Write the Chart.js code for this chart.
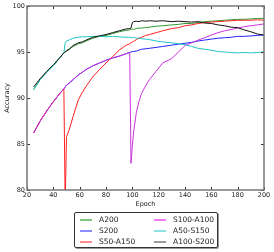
<!DOCTYPE html>
<html><head><meta charset="utf-8">
<script src="https://cdn.jsdelivr.net/npm/chart.js@4"></script>
<style>
html,body{margin:0;padding:0;background:#fff;}
#wrap{position:relative;width:274px;height:252px;}
#legend{position:absolute;left:74px;top:212px;width:142px;height:34px;border:1px solid #333;border-radius:2px;box-shadow:1px 1px 0 #999;background:#fff;font-family:'DejaVu Sans';font-size:7.5px;color:#222;}
.item{position:absolute;height:10px;line-height:10px;white-space:nowrap;}
.sw{position:absolute;left:0;top:4px;width:12px;height:2px;}
.lbl{position:absolute;left:19px;top:0;}
</style></head>
<body><div id="wrap"><canvas id="c" width="274" height="252"></canvas><div id="legend"></div></div>
<script>
const epochs = [25,30,35,40,45,48,49,50,52,55,59,62,65,70,75,80,85,90,95,98,99,100,101,103,105,107,110,113,118,123,130,135,140,145,150,155,160,165,170,175,180,185,190,195,200];
const A200 = [90.9,92.0,92.8,93.5,94.4,94.9,95.0,95.2,95.3,95.6,95.9,96.0,96.2,96.5,96.7,96.8,97.0,97.2,97.35,97.4,97.45,97.5,97.45,97.55,97.6,97.6,97.65,97.7,97.8,97.85,97.95,98.0,98.1,98.1,98.2,98.3,98.35,98.4,98.45,98.5,98.55,98.55,98.6,98.65,98.65];
const S200 = [86.2,87.5,88.6,89.6,90.5,91.0,91.2,91.4,91.6,92.0,92.5,92.8,93.1,93.5,93.8,94.1,94.35,94.55,94.8,94.95,95.0,95.05,95.05,95.1,95.2,95.3,95.35,95.4,95.5,95.6,95.75,95.85,95.95,96.05,96.2,96.3,96.4,96.5,96.55,96.6,96.7,96.7,96.75,96.8,96.85];
const S50_A150 = [86.2,87.5,88.6,89.6,90.5,91.0,78.5,85.8,86.5,88.0,89.8,90.6,91.3,92.3,93.1,93.8,94.5,95.2,95.7,95.9,96.0,96.1,96.15,96.35,96.5,96.6,96.8,96.9,97.1,97.3,97.55,97.65,97.85,97.95,98.1,98.2,98.25,98.3,98.35,98.4,98.45,98.45,98.45,98.5,98.45];
const S100_A100 = [86.2,87.5,88.6,89.6,90.5,91.0,91.2,91.4,91.6,92.0,92.5,92.8,93.1,93.5,93.8,94.1,94.35,94.55,94.8,94.95,82.9,84.8,86.3,88.4,89.6,90.5,91.3,92.0,92.9,93.8,94.3,95.0,95.7,96.0,96.3,96.55,96.85,97.1,97.3,97.45,97.6,97.75,97.85,97.95,98.05];
const A50_S150 = [90.9,92.0,92.8,93.5,94.4,94.9,96.0,96.2,96.3,96.5,96.6,96.65,96.65,96.7,96.7,96.65,96.7,96.65,96.6,96.6,96.55,96.55,96.6,96.5,96.5,96.45,96.4,96.35,96.2,96.1,96.0,95.9,95.8,95.6,95.4,95.3,95.2,95.05,95.0,94.95,94.9,94.95,94.9,94.95,95.0];
const A100_S200 = [91.2,92.1,92.9,93.6,94.4,94.9,95.0,95.1,95.3,95.7,96.0,96.1,96.3,96.6,96.75,96.9,97.1,97.3,97.5,97.55,97.6,98.2,98.3,98.35,98.3,98.4,98.35,98.4,98.35,98.4,98.3,98.35,98.3,98.25,98.3,98.15,98.1,97.95,97.85,97.7,97.65,97.4,97.2,96.95,96.85];
const seriesNames = ['A200','S200','S50-A150','S100-A100','A50-S150','A100-S200'];
const seriesValues = [A200,S200,S50_A150,S100_A100,A50_S150,A100_S200];
const xTicks = [20,40,60,80,100,120,140,160,180,200];
const yTicks = [80,85,90,95,100];

const lineColors = ['#2e9a2e','#2222ff','#ff2020','#cc33dd','#22c4c4','#111111'];
const legendColors = ['#80c480','#8c8cff','#ff8c8c','#ee77ee','#8ce0e0','#999999'];

const datasets = seriesNames.map((name,i)=>({
  label: name,
  data: epochs.map((e,j)=>({x:e,y:seriesValues[i][j]})),
  borderColor: lineColors[i],
  backgroundColor: lineColors[i],
  borderWidth: 1,
  pointRadius: 0,
  tension: 0,
  fill: false,
  order: 6 - i
}));

const framePlugin = {
  id: 'frame',
  afterDatasetsDraw(chart){
    const {ctx, chartArea:a, scales} = chart;
    ctx.save();
    ctx.strokeStyle = '#333';
    ctx.lineWidth = 1;
    const L = 3;
    ctx.beginPath();
    scales.x.ticks.forEach(t=>{
      const px = Math.round(scales.x.getPixelForValue(t.value))+0.5;
      ctx.moveTo(px,a.bottom); ctx.lineTo(px,a.bottom-L);
      ctx.moveTo(px,a.top); ctx.lineTo(px,a.top+L);
    });
    scales.y.ticks.forEach(t=>{
      const py = Math.round(scales.y.getPixelForValue(t.value))+0.5;
      ctx.moveTo(a.left,py); ctx.lineTo(a.left+L,py);
      ctx.moveTo(a.right,py); ctx.lineTo(a.right-L,py);
    });
    ctx.stroke();
    ctx.strokeStyle = '#777';
    ctx.lineWidth = 1.5;
    ctx.strokeRect(a.left, a.top, a.right-a.left, a.bottom-a.top);
    ctx.restore();
  }
};

new Chart(document.getElementById('c'), {
  type: 'line',
  data: { datasets },
  plugins: [framePlugin],
  options: {
    responsive: false,
    animation: false,
    devicePixelRatio: 1,
    layout: { padding: { left: 0, right: 10, top: 6, bottom: 42 } },
    plugins: { legend: { display: false }, tooltip: { enabled: false } },
    scales: {
      x: {
        type: 'linear', min: 20, max: 200,
        afterBuildTicks(s){ s.ticks = xTicks.map(v=>({value:v})); },
        afterFit(s){ s.height = 20; },
        grid: { display: false, drawTicks: false },
        border: { display: false },
        ticks: { font: { family: 'DejaVu Sans', size: 6.5 }, color: '#222', padding: 1, maxRotation: 0, autoSkip: false },
        title: { display: true, text: 'Epoch', font: { family: 'DejaVu Sans', size: 6.5 }, color: '#222', padding: { top: 0, bottom: 2 } }
      },
      y: {
        type: 'linear', min: 80, max: 100,
        afterBuildTicks(s){ s.ticks = yTicks.map(v=>({value:v})); },
        afterFit(s){ s.width = 27; },
        grid: { display: false, drawTicks: false },
        border: { display: false },
        ticks: { font: { family: 'DejaVu Sans', size: 6.5 }, color: '#222', padding: 2, autoSkip: false },
        title: { display: true, text: 'Accuracy', font: { family: 'DejaVu Sans', size: 6.5 }, color: '#222', padding: { top: 3, bottom: 0 } }
      }
    }
  }
});

const leg = document.getElementById('legend');
seriesNames.forEach((name,i)=>{
  const col = Math.floor(i/3), row = i%3;
  const it = document.createElement('div');
  it.className = 'item';
  it.style.left = (5 + col*74) + 'px';
  it.style.top = (2 + row*11.1) + 'px';
  const sw = document.createElement('div');
  sw.className = 'sw';
  sw.style.background = legendColors[i];
  const lb = document.createElement('span');
  lb.className = 'lbl';
  lb.textContent = name;
  it.appendChild(sw); it.appendChild(lb);
  leg.appendChild(it);
});
</script>
</body></html>
